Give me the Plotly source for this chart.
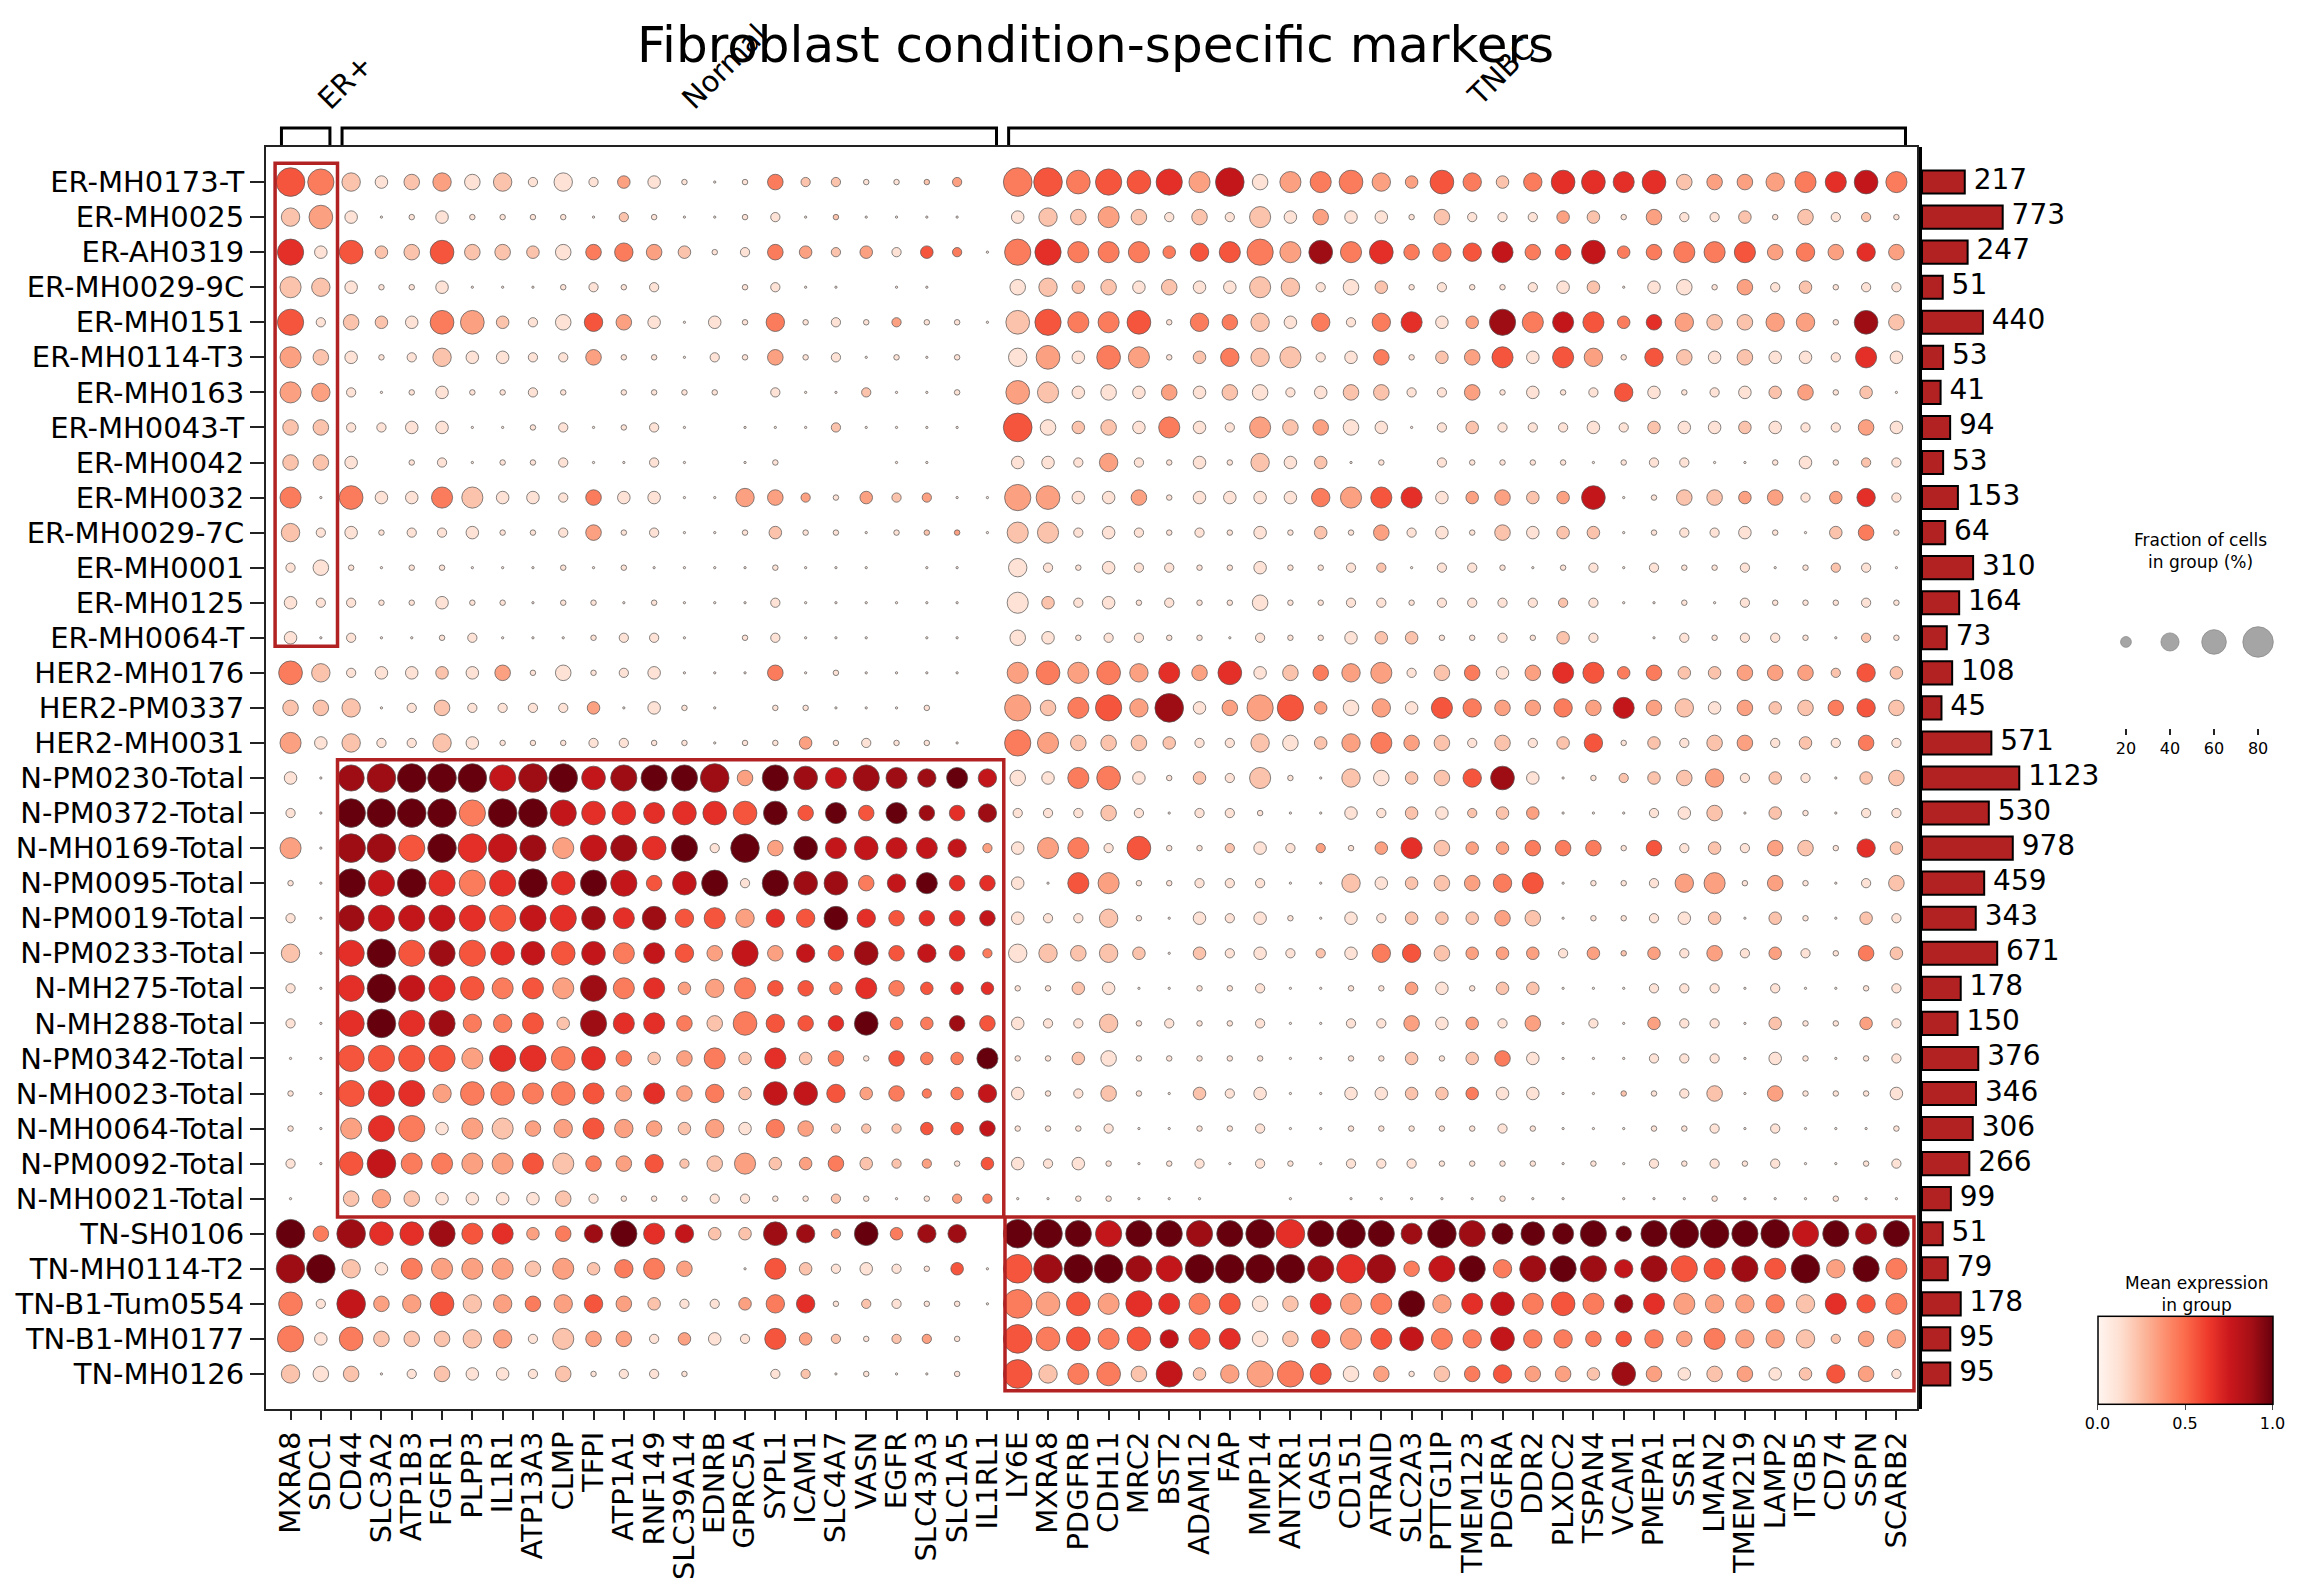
import numpy as np
import plotly.graph_objects as go

title = "Fibroblast condition-specific markers"
groups = ["ER+", "Normal", "TNBC"]

genes_er = ["MXRA8", "SDC1"]
genes_normal = ["CD44", "SLC3A2", "ATP1B3", "FGFR1", "PLPP3", "IL1R1", "ATP13A3", "CLMP",
                "TFPI", "ATP1A1", "RNF149", "SLC39A14", "EDNRB", "GPRC5A", "SYPL1", "ICAM1",
                "SLC4A7", "VASN", "EGFR", "SLC43A3", "SLC1A5", "IL1RL1"]
genes_tnbc = ["LY6E", "MXRA8", "PDGFRB", "CDH11", "MRC2", "BST2", "ADAM12", "FAP", "MMP14",
              "ANTXR1", "GAS1", "CD151", "ATRAID", "SLC2A3", "PTTG1IP", "TMEM123", "PDGFRA",
              "DDR2", "PLXDC2", "TSPAN4", "VCAM1", "PMEPA1", "SSR1", "LMAN2", "TMEM219",
              "LAMP2", "ITGB5", "CD74", "SSPN", "SCARB2"]

samples = ["ER-MH0173-T", "ER-MH0025", "ER-AH0319", "ER-MH0029-9C", "ER-MH0151",
           "ER-MH0114-T3", "ER-MH0163", "ER-MH0043-T", "ER-MH0042", "ER-MH0032",
           "ER-MH0029-7C", "ER-MH0001", "ER-MH0125", "ER-MH0064-T", "HER2-MH0176",
           "HER2-PM0337", "HER2-MH0031", "N-PM0230-Total", "N-PM0372-Total",
           "N-MH0169-Total", "N-PM0095-Total", "N-PM0019-Total", "N-PM0233-Total",
           "N-MH275-Total", "N-MH288-Total", "N-PM0342-Total", "N-MH0023-Total",
           "N-MH0064-Total", "N-PM0092-Total", "N-MH0021-Total", "TN-SH0106",
           "TN-MH0114-T2", "TN-B1-Tum0554", "TN-B1-MH0177", "TN-MH0126"]
n_cells = [217, 773, 247, 51, 440, 53, 41, 94, 53, 153, 64, 310, 164, 73, 108, 45, 571,
           1123, 530, 978, 459, 343, 671, 178, 150, 376, 346, 306, 266, 99, 51, 79, 178, 95, 95]

# fraction of cells expressing: one char per gene, in steps of FRAC_STEP percent
# ('.' = no cells, '0' = only a few cells)
FRAC_STEP = 8.2
frac_er = ["98", "57", "83", "65", "82", "64", "65", "44", "44", "60", "52", "24", "32", "30",
           "75", "44", "63", "30", "20", "60", "10", "20", "50", "20", "20", "00", "10", "10",
           "20", "0.", "94", "99", "72", "83", "54"]
frac_normal = [
    "534545252331014221112.", "301311110210012010000.", "7347443445431243232320",
    "31130001212..1200.00..", "4337732454303151212110", "312533224110214120101.",
    "20131121.1111.2002001.", "223300120120.00020000.", "3.1201120020.01...00..",
    "7336633243300542132200", "3122311241200131101110", "101100010100001000.00.",
    "211311011010002000000.", "200120001220.12000.00.", "233334141230004010000.",
    "5024222230310.110001..", "522531112211011312110.", "8999989978889487686565",
    "9999899877677774646445", "9989998688782947676652", "9898889788478287745644",
    "8888888876756555754444", "8988877776654845474542", "8988766686635644364333",
    "8988556386644754473344", "8888688774346363414336", "8885776764645377534235",
    "6883664565435354222334", "7966666644524633432213", "4543333421112211210122",
    "977866345865337527355.", "536666463564.063232130", "9457554554322355122110",
    "744455264423326321221.", "402433241221..2201001."]
frac_tnbc = [
    "997878694667537535776744456676", "354642426343314222331422314221",
    "886663568676745564473466645454", "453434336524312112330341423122",
    "786671545352563386663454455174", "573761355623413463651543433263",
    "763434344234422413125312334130", "943436326444302322232333332243",
    "3325213153301.2111101220013122", "873341333356663343370144342352",
    "662321213131423143330122310341", "521322113112202210120211201220",
    "632312114112212222220010211121", "43122110211333112132.021221021",
    "676756473445624434663433444253", "846859348834536544546453434454",
    "864443225435644242351324423242", "436731326105434573012345232034",
    "222420221003233233000234031022", "366271123221364334441423244153",
    "306611222005334456011256141024", "322510323103233344011233031032",
    "554530323223554333231324232143", "113300112001133133000222020012",
    "322512112002243324020322031132", "113411111001131343000222031012",
    "312410323003333333001124041113", "111200112001111121000112020001",
    "323101202102221111010212120012", "0011000..0.00000100.0001000100",
    "998888889989869867684899898868", "999988999989948858885886869586",
    "977686664466685676765665555656", "977675664456676575544546555245",
    "956748358864414454437434433542"]

# mean expression in group: one digit per gene, 0..9 maps to 0..1
expr_er = ["54", "23", "61", "22", "51", "32", "33", "22", "22", "41", "21", "11", "11", "11",
           "42", "22", "31", "11", "11", "31", "11", "11", "21", "11", "11", "11", "11", "11",
           "11", "10", "94", "89", "41", "41", "21"]
expr_normal = [
    "2123121113111142211230", "1111111112111111211110", "5225222144321143231541",
    "1111111111100111101100", "2214321153111141113111", "1112111131111131111110",
    "1111111101111011121110", "1111111111110111211110", "1011111111110110001100",
    "4114211141111333132311", "1111111131111121111231", "1111111111111111110110",
    "1111111111111111111110", "1111111111110111110110", "1112131111111141111110",
    "2112111131111011111100", "2112111111111113111110", "8899978978998398788897",
    "9999499766666595959868", "8859678378691939777773", "9796469697579198847966",
    "8777657686855365965667", "6958567574753737585764", "6976545384633455464566",
    "6968445286642455694485", "5555366464234262415449", "5663444453634277534447",
    "3641323353323143222557", "5744335243522323422315", "2321111211111111211134",
    "8668563489672288394880", "2143332324430152111151", "7335234353211346121111",
    "4222231233131153212310", "2112111211110012111110"]
expr_tnbc = [
    "454556371344335424666623334674", "122321212131112111321311212121",
    "464444554384644574574444534363", "122212112211211111121111312111",
    "254451442141461384754632233182", "131431242211412351531521211161",
    "321113121112211311115111123121", "512214113231111211111211211131",
    "111311112121101111111111111121", "331131111143561332371122331361",
    "221111111121311121221111111241", "111111111111211111111111111211",
    "121111111111111111211111111111", "111111111111221111210111111121",
    "343436361243312413654422333252", "324538133531315433437321322452",
    "432222112123432121251212312141", "114411212112122581112223121122",
    "111211111111121223111112121111", "134151121131362334441512132162",
    "115311111112122345111133131112", "111211111111122232111112121121",
    "122221211121452333132313131142", "112111111111131122111111111111",
    "111211111111131313111311121131", "112111111111121241111111111111",
    "111211211111122411112112131111", "111111111111111111111111111111",
    "111111111111111111111111111111", "111111111111111111111111111111",
    "999799899699989899999999997989", "589987999986847948987855859394",
    "435366451263493674548633342654", "545457561253574474445434332233",
    "524427233451312453328312312531"]

legend_fracs = [20, 40, 60, 80]

W, H = 2300, 1581
FONT = "DejaVu Sans"
RED = "#b22222"


def px(x):
    return x / W


def py(y):
    return 1 - y / H


def frac_value(ch):
    if ch == ".":
        return 0.0
    if ch == "0":
        return 2.5
    return int(ch) * FRAC_STEP


def dot_px(pct):
    return 36 * (pct / 100.0) ** 0.75


genes = genes_er + genes_normal + genes_tnbc
frac_rows = [a + b + c for a, b, c in zip(frac_er, frac_normal, frac_tnbc)]
expr_rows = [a + b + c for a, b, c in zip(expr_er, expr_normal, expr_tnbc)]
assert len(frac_rows) == len(samples) == len(expr_rows) == len(n_cells)
for r, e in zip(frac_rows, expr_rows):
    assert len(r) == len(genes) and len(e) == len(genes), (r, e)

xs, ys, sizes, cols, hov = [], [], [], [], []
for i, (fr, ex) in enumerate(zip(frac_rows, expr_rows)):
    for j, (f, e) in enumerate(zip(fr, ex)):
        pct = frac_value(f)
        if pct <= 0:
            continue
        xs.append(j)
        ys.append(i)
        sizes.append(dot_px(pct))
        cols.append(int(e) / 9.0)
        hov.append("%s / %s<br>%.0f%% cells, mean %.2f" % (samples[i], genes[j], pct, int(e) / 9.0))

fig = go.Figure()

fig.add_trace(go.Scatter(
    x=xs, y=ys, mode="markers", text=hov, hoverinfo="text",
    marker=dict(size=sizes, sizemode="diameter", color=cols, colorscale="Reds",
                cmin=0, cmax=1, line=dict(color="rgba(85,85,85,0.9)", width=0.8),
                opacity=1,
                colorbar=dict(orientation="h", x=px(2177), xanchor="center",
                              y=py(1426), yanchor="bottom", len=175, lenmode="pixels",
                              thickness=88, thicknessmode="pixels", outlinewidth=1.5,
                              outlinecolor="black", tickvals=[0, 0.5, 1],
                              ticktext=["0.0", "0.5", "1.0"], ticks="outside", ticklen=5,
                              tickfont=dict(family=FONT, size=16, color="black"),
                              xpad=0, ypad=0)),
    showlegend=False, xaxis="x", yaxis="y"))

# cell counts per sample
rows = list(range(len(samples)))
bar_len = np.sqrt(n_cells)
fig.add_trace(go.Bar(
    x=bar_len, y=rows, orientation="h", width=0.66,
    marker=dict(color=RED, line=dict(color="black", width=2)),
    hovertext=[str(n) for n in n_cells], hoverinfo="text",
    showlegend=False, xaxis="x2", yaxis="y2"))
fig.add_trace(go.Scatter(
    x=bar_len, y=rows, mode="text", text=[" %d" % n for n in n_cells],
    textposition="middle right", cliponaxis=False, hoverinfo="skip",
    textfont=dict(family=FONT, size=28, color="black"),
    showlegend=False, xaxis="x2", yaxis="y2"))

# size legend
fig.add_trace(go.Scatter(
    x=legend_fracs, y=[0.717] * len(legend_fracs), mode="markers", hoverinfo="skip",
    marker=dict(size=[dot_px(v) for v in legend_fracs], sizemode="diameter",
                color="#808080", line=dict(color="#5a5a5a", width=0.8)),
    showlegend=False, xaxis="x3", yaxis="y3"))

y_dom = [py(1401), py(139)]
fig.update_layout(
    width=W, height=H, autosize=False,
    margin=dict(l=0, r=0, t=0, b=0),
    paper_bgcolor="white", plot_bgcolor="white",
    font=dict(family=FONT, color="black"),
    xaxis=dict(domain=[px(258), px(1909)], range=[-0.81, 53.68],
               tickmode="array", tickvals=list(range(len(genes))), ticktext=genes,
               tickangle=-90, tickfont=dict(size=29), ticks="outside", ticklen=9,
               tickwidth=1.5, tickcolor="#222", showgrid=False, zeroline=False,
               showline=True, mirror=True, linecolor="#222", linewidth=2, anchor="y"),
    yaxis=dict(domain=y_dom, range=[35, -1], tickmode="array", tickvals=rows,
               ticktext=samples, tickfont=dict(size=29), ticks="outside", ticklen=14,
               tickwidth=1.5, tickcolor="#222", showgrid=False, zeroline=False,
               showline=True, mirror=True, linecolor="#222", linewidth=2, anchor="x"),
    xaxis2=dict(domain=[px(1914), px(2060)], range=[0, 50.3], visible=False,
                anchor="y2"),
    yaxis2=dict(domain=y_dom, range=[35, -1], showticklabels=False, ticks="",
                showgrid=False, zeroline=False, showline=True, linecolor="black",
                linewidth=2.5, anchor="x2"),
    xaxis3=dict(domain=[px(2090), px(2280)], range=[7.3, 93.6], tickmode="array",
                tickvals=legend_fracs, ticks="outside", ticklen=6, tickwidth=1.5,
                tickcolor="#222", tickfont=dict(size=16), showline=False,
                showgrid=False, zeroline=False, anchor="y3"),
    yaxis3=dict(domain=[py(720), py(600)], range=[0, 1], visible=False, anchor="x3"),
    bargap=0.34,
)

shapes = []
# group brackets above the columns
bounds = [(0, len(genes_er) - 1),
          (len(genes_er), len(genes_er) + len(genes_normal) - 1),
          (len(genes_er) + len(genes_normal), len(genes) - 1)]
yt, yb = py(120), py(137)
for a, b in bounds:
    x0, x1 = a - 0.3, b + 0.3
    shapes.append(dict(type="path", xref="x", yref="paper",
                       path="M %f,%f L %f,%f L %f,%f L %f,%f" % (x0, yb, x0, yt, x1, yt, x1, yb),
                       line=dict(color="black", width=3)))

# highlight boxes
boxes = [(-0.51, 1.55, -0.54, 13.24), (1.55, 23.54, 16.48, 29.52), (23.58, 53.58, 29.52, 34.48)]
for x0, x1, y0, y1 in boxes:
    shapes.append(dict(type="rect", xref="x", yref="y", x0=x0, x1=x1, y0=y0, y1=y1,
                       line=dict(color=RED, width=3.5), fillcolor="rgba(0,0,0,0)"))
fig.update_layout(shapes=shapes)

annotations = [
    dict(text=title, x=px(1087), y=py(37), xref="paper", yref="paper", showarrow=False,
         xanchor="center", yanchor="middle", font=dict(size=50, family=FONT)),
    dict(text="Fraction of cells<br>in group (%)", x=px(2192), y=py(543), xref="paper",
         yref="paper", showarrow=False, xanchor="center", yanchor="middle",
         font=dict(size=17, family=FONT)),
    dict(text="Mean expression<br>in group", x=px(2188), y=py(1286), xref="paper",
         yref="paper", showarrow=False, xanchor="center", yanchor="middle",
         font=dict(size=17, family=FONT)),
]
label_pos = [(337, 74), (716, 59), (1493, 64)]
for g, (gx, gy) in zip(groups, label_pos):
    annotations.append(dict(text=g, x=px(gx), y=py(gy), xref="paper", yref="paper",
                            showarrow=False, textangle=-45, xanchor="center",
                            yanchor="middle", font=dict(size=29, family=FONT)))
fig.update_layout(annotations=annotations)

fig.write_html("out.html")
